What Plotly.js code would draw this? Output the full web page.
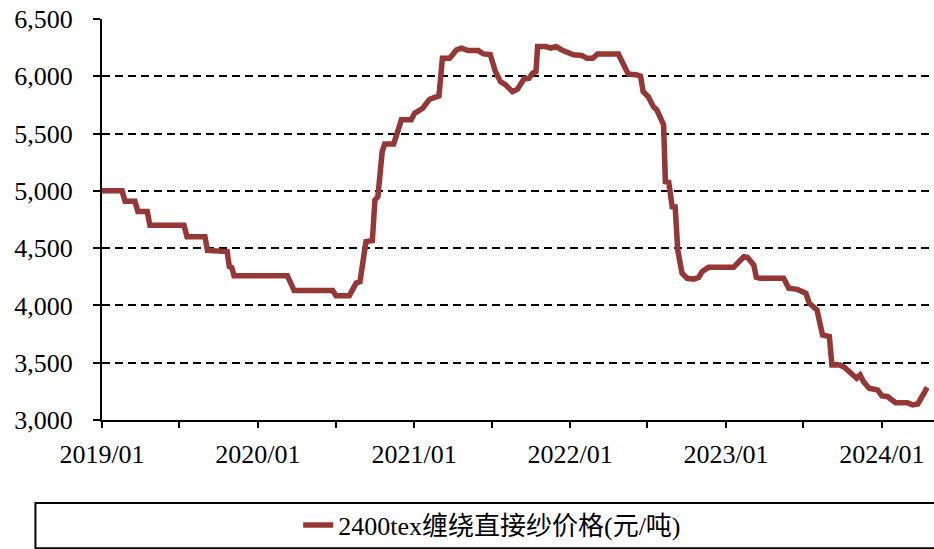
<!DOCTYPE html>
<html>
<head>
<meta charset="utf-8">
<script src="https://cdn.plot.ly/plotly-3.0.1.min.js"></script>
<style>html,body{margin:0;padding:0;background:#fff;}#chart{width:934px;height:549px;}</style>
</head>
<body>
<div id="chart"></div>
<script>
const seriesName = "2400tex缠绕直接纱价格(元/吨)";
const dates = [
"2019-01-01","2019-02-17","2019-02-24","2019-03-19","2019-03-26","2019-04-17","2019-04-23","2019-07-12","2019-07-19","2019-08-30",
"2019-09-05","2019-09-28","2019-10-02","2019-10-21","2019-10-26","2019-11-01","2019-11-06","2020-03-10","2020-03-26","2020-06-24",
"2020-07-02","2020-08-02","2020-08-18","2020-08-27","2020-09-10","2020-09-25","2020-10-01","2020-10-08","2020-10-18","2020-10-24",
"2020-11-14","2020-12-02","2020-12-25","2021-01-02","2021-01-21","2021-02-06","2021-02-28","2021-03-08","2021-03-25","2021-04-10",
"2021-04-22","2021-05-07","2021-05-31","2021-06-12","2021-06-28","2021-07-10","2021-07-22","2021-08-03","2021-08-19","2021-08-31",
"2021-09-15","2021-09-27","2021-10-05","2021-10-13","2021-10-17","2021-11-05","2021-11-17","2021-11-29","2021-12-15","2022-01-01",
"2022-01-09","2022-01-28","2022-02-09","2022-02-23","2022-03-06","2022-04-24","2022-05-06","2022-05-17","2022-06-07","2022-06-15",
"2022-06-21","2022-07-03","2022-07-15","2022-07-23","2022-08-08","2022-08-12","2022-08-20","2022-08-28","2022-09-04","2022-09-10",
"2022-09-20","2022-10-02","2022-10-17","2022-10-29","2022-11-06","2022-11-21","2023-01-19","2023-02-12","2023-02-20","2023-03-07",
"2023-03-13","2023-03-22","2023-05-16","2023-05-28","2023-06-17","2023-07-07","2023-07-15","2023-08-02","2023-08-15","2023-08-31",
"2023-09-06","2023-09-25","2023-10-05","2023-10-24","2023-11-03","2023-11-11","2023-11-19","2023-12-02","2023-12-22","2024-01-01",
"2024-01-14","2024-02-02","2024-03-01","2024-03-13","2024-03-25","2024-04-06","2024-04-16"
];
const prices = [
5000,5000,4910,4910,4820,4820,4700,4700,4600,4600,
4480,4480,4470,4470,4340,4330,4260,4260,4130,4130,
4085,4085,4195,4207,4557,4565,4920,4950,5342,5410,
5410,5620,5620,5677,5721,5800,5829,6158,6158,6230,
6245,6224,6224,6195,6190,6041,5953,5925,5866,5887,
5977,5983,6027,6041,6259,6259,6245,6259,6224,6207,
6187,6182,6158,6158,6195,6195,6114,6020,6012,6000,
5866,5822,5735,5706,5575,5080,5075,4862,4860,4484,
4281,4237,4230,4245,4295,4333,4333,4426,4420,4353,
4246,4237,4237,4150,4140,4106,4019,3960,3742,3728,
3480,3480,3460,3393,3364,3393,3334,3277,3262,3210,
3205,3151,3151,3131,3140,3218,3285
];
const yTickVals = [3000,3500,4000,4500,5000,5500,6000,6500];
const yRange = [3000, 6500];
const xRange = ["2019-01-01", "2024-05-02"];

const serif = 'Liberation Serif, Noto Sans CJK SC, serif';

const trace = {
  x: dates, y: prices, type: 'scatter', mode: 'lines', name: seriesName,
  line: {color: '#953735', width: 5.5}
};

const layout = {
  width: 934, height: 549,
  margin: {l: 102, r: 0, t: 19, b: 129},
  paper_bgcolor: '#fff', plot_bgcolor: '#fff',
  font: {family: serif, size: 26, color: '#000'},
  showlegend: true,
  legend: {orientation: 'h', x: 0.469, xanchor: 'center', y: -0.262, yanchor: 'middle',
           font: {family: serif, size: 26, color: '#000'}, bgcolor: 'rgba(0,0,0,0)'},
  xaxis: {
    type: 'date', range: xRange, dtick: 'M12', tick0: '2019-01-01', tickformat: '%Y/%m',
    showgrid: false, zeroline: false, showline: true, linecolor: '#000', linewidth: 2,
    ticks: 'outside', ticklen: 6, tickwidth: 2, tickcolor: '#000',
    ticklabelstandoff: 4,
    minor: {dtick: 'M6', tick0: '2019-01-01', ticks: 'outside', ticklen: 6, tickwidth: 2, tickcolor: '#000', showgrid: false},
    tickfont: {family: serif, size: 26, color: '#000'}
  },
  yaxis: {
    range: yRange, tickvals: yTickVals, tickformat: ',d',
    showgrid: true, gridcolor: '#000', gridwidth: 2, griddash: '8px,5px',
    zeroline: false, showline: true, linecolor: '#000', linewidth: 2,
    ticks: 'outside', ticklen: 7, tickwidth: 2, tickcolor: '#000',
    ticklabelstandoff: 15,
    tickfont: {family: serif, size: 26, color: '#000'}
  },
  shapes: [
    {type: 'rect', xref: 'paper', yref: 'paper', x0: -0.080, x1: 1.01, y0: -0.207, y1: -0.320,
     line: {color: '#000', width: 2}, fillcolor: 'rgba(0,0,0,0)', layer: 'below'}
  ]
};

Plotly.newPlot('chart', [trace], layout, {staticPlot: true, displayModeBar: false});
</script>
</body>
</html>
